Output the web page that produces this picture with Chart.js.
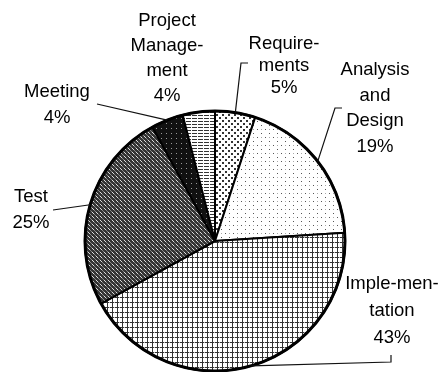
<!DOCTYPE html>
<html>
<head>
<meta charset="utf-8">
<script src="https://cdn.jsdelivr.net/npm/chart.js@4.4.0/dist/chart.umd.min.js"></script>
<style>
  html, body { margin: 0; padding: 0; background: #fff; }
  canvas { display: block; }
</style>
</head>
<body>
<canvas id="chart-pie" width="441" height="372"></canvas>
<script>
// effort breakdown, clockwise from 12 o'clock
var categories = ["Requirements", "Analysis and Design", "Implementation", "Test", "Meeting", "Project Management"];
var percents = [5, 19, 43, 25, 4, 4];
var labelLines = [
  ["Require-", "ments", "5%"],
  ["Analysis", "and", "Design", "19%"],
  ["Imple-men-", "tation", "43%"],
  ["Test", "25%"],
  ["Meeting", "4%"],
  ["Project", "Manage-", "ment", "4%"]
];

var ctx = document.getElementById("chart-pie").getContext("2d");

// small tiles for the grey-scale fill patterns
function makePattern(w, h, draw) {
  var c = document.createElement("canvas");
  c.width = w;
  c.height = h;
  var g = c.getContext("2d");
  g.fillStyle = "#fff";
  g.fillRect(0, 0, w, h);
  draw(g);
  return ctx.createPattern(c, "repeat");
}

var fills = [
  // requirements: dense dots
  makePattern(6, 6, function (g) {
    g.fillStyle = "#333";
    g.fillRect(0, 0, 2, 2);
    g.fillRect(3, 3, 2, 2);
  }),
  // analysis: sparse dots
  makePattern(8, 8, function (g) {
    g.fillStyle = "#555";
    g.fillRect(1, 1, 1, 1);
    g.fillRect(5, 5, 1, 1);
    g.fillStyle = "#aaa";
    g.fillRect(5, 1, 1, 1);
  }),
  // implementation: grid
  makePattern(5, 5, function (g) {
    g.fillStyle = "#333";
    g.fillRect(0, 2, 5, 1);
    g.fillRect(2, 0, 1, 5);
    g.fillStyle = "#bbb";
    g.fillRect(4, 2, 1, 1);
  }),
  // test: dark weave
  makePattern(4, 4, function (g) {
    g.fillStyle = "#333";
    g.fillRect(0, 0, 4, 4);
    g.fillStyle = "#ddd";
    g.fillRect(0, 0, 1, 1);
    g.fillRect(1, 1, 1, 1);
    g.fillStyle = "#888";
    g.fillRect(2, 2, 1, 1);
    g.fillRect(3, 3, 1, 1);
  }),
  // meeting: nearly black
  makePattern(5, 5, function (g) {
    g.fillStyle = "#111";
    g.fillRect(0, 0, 5, 5);
    g.fillStyle = "#999";
    g.fillRect(1, 3, 1, 1);
  }),
  // project management: horizontal dashes
  makePattern(6, 3, function (g) {
    g.fillStyle = "#333";
    g.fillRect(0, 1, 5, 1);
  })
];

// where each label sits: text centre, first row, row step, leader elbow
var labelLayout = [
  { x: 284, y: 44, step: 22, leader: [[241, 63], [248, 63]] },
  { x: 375, y: 70, step: 25.5, leader: [[335, 108], [342, 108]] },
  { x: 392, y: 284, step: 27, leader: [[391, 362], [391, 355]] },
  { x: 31, y: 197, step: 26, leader: [[53, 210]] },
  { x: 57, y: 92, step: 26, leader: [[97, 104]] },
  { x: 167, y: 21, step: 25, leader: null }
];

var pieLabels = {
  id: "pieLabels",
  afterDatasetsDraw: function (chart) {
    var c = chart.ctx;
    var arcs = chart.getDatasetMeta(0).data;
    c.save();
    // heavier outer rim
    var a0 = arcs[0];
    c.beginPath();
    c.arc(a0.x, a0.y, a0.outerRadius, 0, Math.PI * 2);
    c.lineWidth = 3;
    c.strokeStyle = "#000";
    c.stroke();

    c.font = "18.5px 'Liberation Sans', Arial, sans-serif";
    c.fillStyle = "#000";
    c.textAlign = "center";
    c.textBaseline = "middle";
    arcs.forEach(function (arc, i) {
      var lay = labelLayout[i];
      labelLines[i].forEach(function (t, k) {
        c.fillText(t, lay.x, lay.y + k * lay.step);
      });
      if (lay.leader) {
        var mid = (arc.startAngle + arc.endAngle) / 2;
        var r = arc.outerRadius;
        c.beginPath();
        c.moveTo(arc.x + Math.cos(mid) * r, arc.y + Math.sin(mid) * r);
        lay.leader.forEach(function (p) { c.lineTo(p[0], p[1]); });
        c.lineWidth = 1.2;
        c.strokeStyle = "#111";
        c.stroke();
      }
    });
    c.restore();
  }
};

new Chart(ctx, {
  type: "pie",
  data: {
    labels: categories,
    datasets: [
      {
        data: percents,
        backgroundColor: fills,
        borderColor: "#000",
        borderWidth: 2,
        borderAlign: "center"
      }
    ]
  },
  options: {
    responsive: false,
    animation: false,
    devicePixelRatio: 1,
    layout: {
      padding: { left: 84, right: 95, top: 110, bottom: 0 }
    },
    plugins: {
      legend: { display: false },
      tooltip: { enabled: false }
    }
  },
  plugins: [pieLabels]
});
</script>
</body>
</html>
